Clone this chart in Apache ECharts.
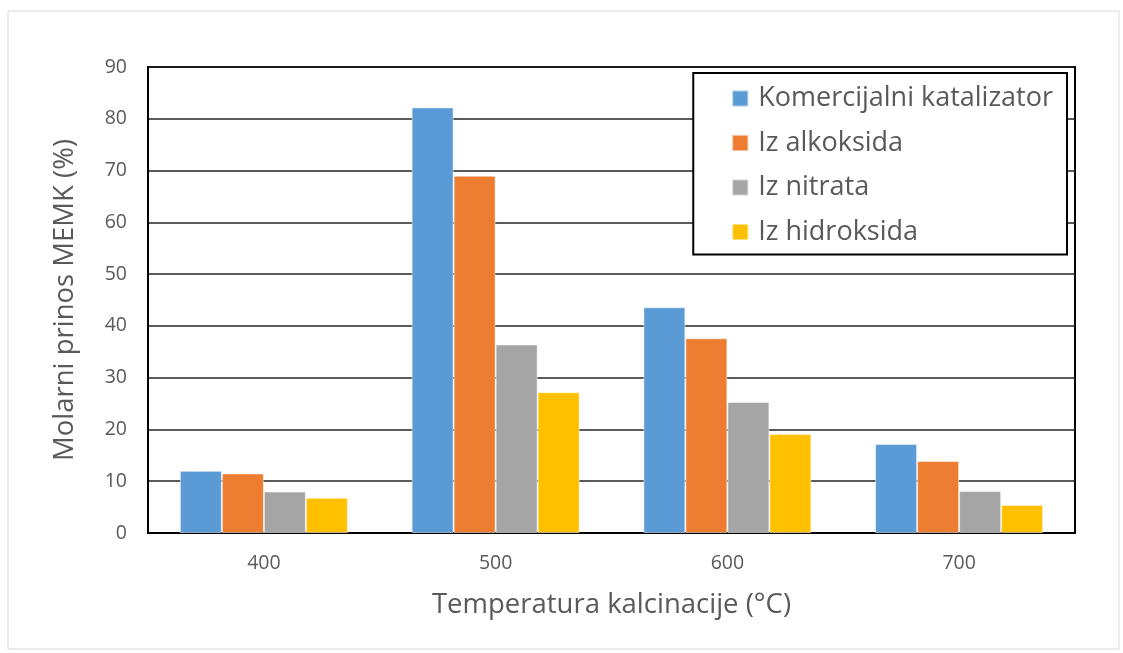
<!DOCTYPE html>
<html><head><meta charset="utf-8">
<script src="https://cdn.jsdelivr.net/npm/echarts@6/dist/echarts.min.js"></script>
<style>html,body{margin:0;padding:0;background:#fff}#c{width:1123px;height:653px}</style>
</head><body><div id="c"></div>
<script>
const categories = ['400','500','600','700'];
const komercijalni = [12.0, 82.2, 43.6, 17.2];
const alkoksida = [11.5, 69.0, 37.6, 13.9];
const nitrata = [8.0, 36.4, 25.3, 8.1];
const hidroksida = [6.8, 27.2, 19.1, 5.4];
const seriesNames = ['Komercijalni katalizator','Iz alkoksida','Iz nitrata','Iz hidroksida'];
const colors = ['#5B9BD5','#ED7D31','#A5A5A5','#FFC000'];
const font = 'Open Sans, sans-serif';
const chart = echarts.init(document.getElementById('c'));
const data = [komercijalni, alkoksida, nitrata, hidroksida];
chart.setOption({
  animation:false,
  graphic:[{type:'rect',shape:{x:8,y:11,width:1111,height:638},style:{fill:'none',stroke:'#d9d9d9',lineWidth:1},z:-1}],
  grid:{left:148,right:48,top:67,bottom:120,show:true,borderColor:'#000',borderWidth:2},
  legend:{orient:'vertical',right:56,top:73,padding:[12,14,9,38],itemGap:17.5,itemWidth:16,itemHeight:16,
    borderColor:'#000',borderWidth:2,backgroundColor:'#fff',icon:'rect',
    textStyle:{fontFamily:font,fontSize:27,color:'#595959',padding:[0,0,0,5]},data:seriesNames},
  xAxis:{type:'category',data:categories,
    axisLine:{lineStyle:{color:'#000',width:2}},axisTick:{show:false},
    axisLabel:{fontFamily:font,fontSize:19.5,color:'#595959',margin:20},
    name:'Temperatura kalcinacije (°C)',nameLocation:'middle',nameGap:58,
    nameTextStyle:{fontFamily:font,fontSize:27.5,color:'#595959'}},
  yAxis:{type:'value',min:0,max:90,interval:10,
    axisLine:{show:true,lineStyle:{color:'#000',width:2}},axisTick:{show:false},
    splitLine:{lineStyle:{color:'#222',width:1.5}},
    axisLabel:{fontFamily:font,fontSize:19.5,color:'#595959',margin:21},
    name:'Molarni prinos MEMK (%)',nameLocation:'middle',nameGap:69,
    nameTextStyle:{fontFamily:font,fontSize:27.5,color:'#595959'}},
  series:data.map((d,i)=>({name:seriesNames[i],type:'bar',data:d,barGap:'0%',barCategoryGap:'27.5%',
    itemStyle:{color:colors[i],borderColor:'rgba(255,255,255,0.5)',borderWidth:1}}))
});
</script></body></html>
